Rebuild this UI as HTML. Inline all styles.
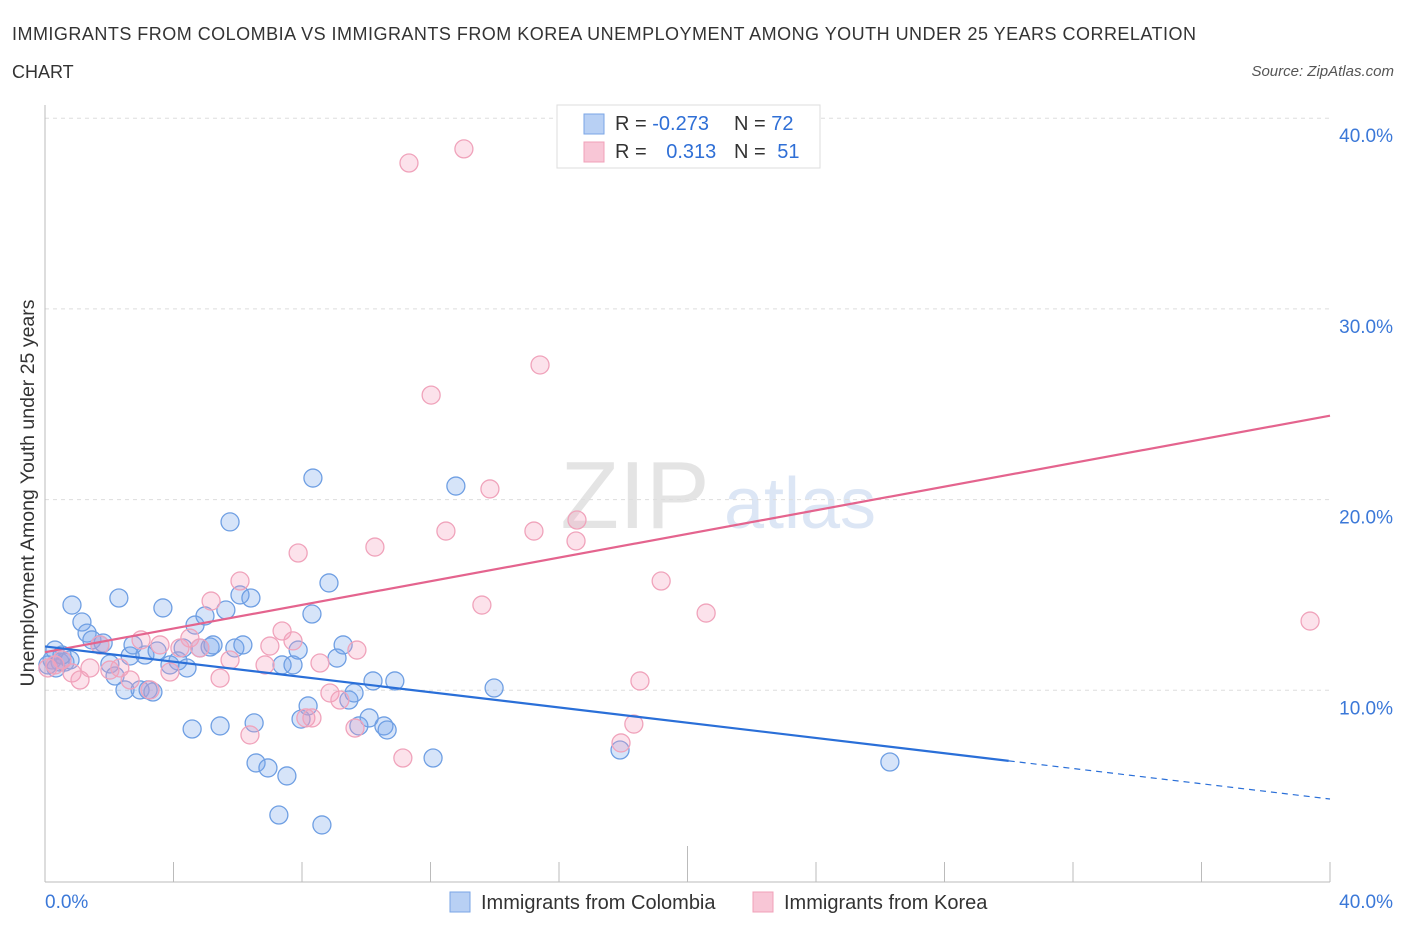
<!DOCTYPE html>
<html><head><meta charset="utf-8"><style>
body{margin:0;background:#fff;font-family:"Liberation Sans",sans-serif;}
svg text{font-family:"Liberation Sans",sans-serif;}
</style></head><body>
<svg width="1406" height="930" viewBox="0 0 1406 930">
<text x="12" y="40" font-size="18" fill="#333" textLength="1184" lengthAdjust="spacing">IMMIGRANTS FROM COLOMBIA VS IMMIGRANTS FROM KOREA UNEMPLOYMENT AMONG YOUTH UNDER 25 YEARS CORRELATION</text>
<text x="12" y="78" font-size="18" fill="#333">CHART</text>
<text x="1394" y="76" font-size="15" fill="#555" font-style="italic" text-anchor="end">Source: ZipAtlas.com</text>
<text x="635" y="528" font-size="96" fill="#e4e4e4" font-family="Liberation Serif" text-anchor="middle">ZIP</text>
<text x="800" y="528" font-size="72" fill="#dce6f5" text-anchor="middle">atlas</text>
<g id="grid"></g>
<g id="axes"></g>
<g id="pts"></g>
<g id="trend"></g>
<text transform="translate(34,493) rotate(-90)" font-size="19.5" fill="#333" text-anchor="middle">Unemployment Among Youth under 25 years</text>
<g>
<rect x="557" y="105" width="263" height="63" fill="#fff" stroke="#ddd"/>
<rect x="584" y="114" width="20" height="20" fill="#b8d0f4" stroke="#7aa5e6"/>
<rect x="584" y="142" width="20" height="20" fill="#f8c6d6" stroke="#f0a0b8"/>
<text x="615" y="130" font-size="20" fill="#333">R = <tspan fill="#2f6fd6">-0.273</tspan></text>
<text x="734" y="130" font-size="20" fill="#333">N = <tspan fill="#2f6fd6">72</tspan></text>
<text x="615" y="158" font-size="20" fill="#333">R = <tspan fill="#2f6fd6" dx="14">0.313</tspan></text>
<text x="734" y="158" font-size="20" fill="#333">N = <tspan fill="#2f6fd6" dx="6">51</tspan></text>
</g>
<g>
<rect x="450" y="892" width="20" height="20" fill="#b8d0f4" stroke="#7aa5e6"/>
<text x="481" y="909" font-size="20" fill="#333">Immigrants from Colombia</text>
<rect x="753" y="892" width="20" height="20" fill="#f8c6d6" stroke="#f0a0b8"/>
<text x="784" y="909" font-size="20" fill="#333">Immigrants from Korea</text>
</g>
</svg>
<script>
const blueX=[0.84,1.15,1.31,1.46,1.71,1.81,2.30,2.02,2.18,2.49,2.65,2.96,3.21,3.36,2.74,3.11,3.67,3.49,3.89,4.14,4.30,4.42,4.67,4.82,4.98,5.14,5.23,5.45,4.58,5.63,5.76,5.91,6.07,6.16,6.41,6.51,6.57,6.94,7.28,7.53,7.38,7.72,7.88,7.97,8.19,8.34,8.31,8.62,8.84,9.09,9.28,9.46,9.62,9.77,10.09,10.21,10.55,10.65,10.89,12.08,12.79,13.98,17.90,26.30,0.22,0.34,0.47,0.62,0.78,0.09,0.31,0.53];
const blueY=[14.47,13.58,13.0,12.64,12.38,12.48,14.84,11.38,10.75,10.02,11.80,10.02,10.02,9.91,12.38,11.85,14.32,12.06,11.33,11.54,12.22,11.17,13.42,12.22,13.90,12.27,12.38,8.13,7.97,14.21,18.83,12.22,15.0,12.38,14.84,8.29,6.19,5.93,3.46,5.51,11.33,11.33,12.11,8.49,9.18,21.13,14.0,2.94,15.63,11.69,12.38,9.49,9.86,8.13,8.55,10.49,8.13,7.92,10.49,6.45,20.71,10.12,6.87,6.24,11.59,11.17,11.48,11.48,11.59,11.33,12.11,11.85];
const pinkX=[0.09,0.31,0.53,0.84,1.09,1.40,1.71,2.02,2.33,2.65,2.99,3.27,3.58,3.89,4.20,4.51,4.82,5.17,5.45,5.76,6.07,6.38,6.85,7.0,7.38,7.72,7.88,8.12,8.31,8.56,8.87,9.18,9.65,9.71,10.27,11.14,11.33,12.02,12.48,13.04,13.60,13.85,15.22,15.41,16.53,16.56,17.93,18.33,18.52,18.93,19.18,20.58,39.38];
const pinkY=[11.17,11.33,11.59,10.91,10.54,11.17,12.38,11.06,11.17,10.54,12.64,10.02,12.38,10.96,12.22,12.74,12.22,14.68,10.64,11.59,15.73,7.66,11.33,12.32,13.11,12.59,17.2,8.55,8.55,11.43,9.86,9.49,8.02,12.11,17.51,6.45,37.65,25.48,18.35,38.39,14.47,20.56,18.35,27.06,17.83,18.93,7.24,8.23,10.49,40.06,15.73,14.05,13.63];
const blueTrend=[12.3,-0.2];   // intercept, slope
const pinkTrend=[12.0,0.31];
const yTicks=[10,20,30,40];
const yTickLabels=["10.0%","20.0%","30.0%","40.0%"];
const xTicks=[0,4,8,12,16,20,24,28,32,36,40];

const NS="http://www.w3.org/2000/svg";
const sx=v=>45+v*32.125, sy=v=>881-v*19.07;
function mk(tag,attrs,parent){const e=document.createElementNS(NS,tag);for(const k in attrs)e.setAttribute(k,attrs[k]);parent.appendChild(e);return e;}
const grid=document.getElementById('grid'),axes=document.getElementById('axes'),pts=document.getElementById('pts'),trend=document.getElementById('trend');
yTicks.forEach((t,i)=>{
 const l=mk('line',{x1:45,x2:1330,y1:sy(t),y2:sy(t),stroke:'#ddd','stroke-dasharray':'4,4'},grid);
 
 
 const tx=mk('text',{x:1393,y:sy(t)+24,'font-size':19,fill:'#3b78d8','text-anchor':'end'},axes);
 tx.textContent=yTickLabels[i];
 
 
});
const ya=mk('line',{x1:45,x2:45,y1:105,y2:882,stroke:'#bbb'},axes);


const xa=mk('line',{x1:45,x2:1330,y1:882,y2:882,stroke:'#bbb'},axes);


xTicks.forEach(t=>{
 const l=mk('line',{x1:sx(t),x2:sx(t),y1:(t==20?846:862),y2:882,stroke:'#bbb'},axes);
 
 
});
const xl0=mk('text',{x:45,y:908,'font-size':19,fill:'#3b78d8'},axes);xl0.textContent='0.0%';


const xl1=mk('text',{x:1393,y:908,'font-size':19,fill:'#3b78d8','text-anchor':'end'},axes);xl1.textContent='40.0%';


blueX.forEach((x,i)=>{
 const c=mk('circle',{cx:sx(x),cy:sy(blueY[i]),r:9,fill:'rgba(120,165,235,0.3)',stroke:'#6f9fe3','stroke-width':1.3},pts);
 
 
});
pinkX.forEach((x,i)=>{
 const c=mk('circle',{cx:sx(x),cy:sy(pinkY[i]),r:9,fill:'rgba(245,160,190,0.3)',stroke:'#f0a3bb','stroke-width':1.3},pts);
 
 
});
const f=(tr,x)=>tr[0]+tr[1]*x;
const pl=mk('line',{x1:sx(0),y1:sy(f(pinkTrend,0)),x2:sx(40),y2:sy(f(pinkTrend,40)),stroke:'#e4648e','stroke-width':2.2},trend);


const bl=mk('line',{x1:sx(0),y1:sy(f(blueTrend,0)),x2:sx(30),y2:sy(f(blueTrend,30)),stroke:'#2a6fd8','stroke-width':2.2},trend);


const bd=mk('line',{x1:sx(30),y1:sy(f(blueTrend,30)),x2:sx(40),y2:sy(f(blueTrend,40)),stroke:'#2a6fd8','stroke-width':1.2,'stroke-dasharray':'6,5'},trend);


</script>
</body></html>
